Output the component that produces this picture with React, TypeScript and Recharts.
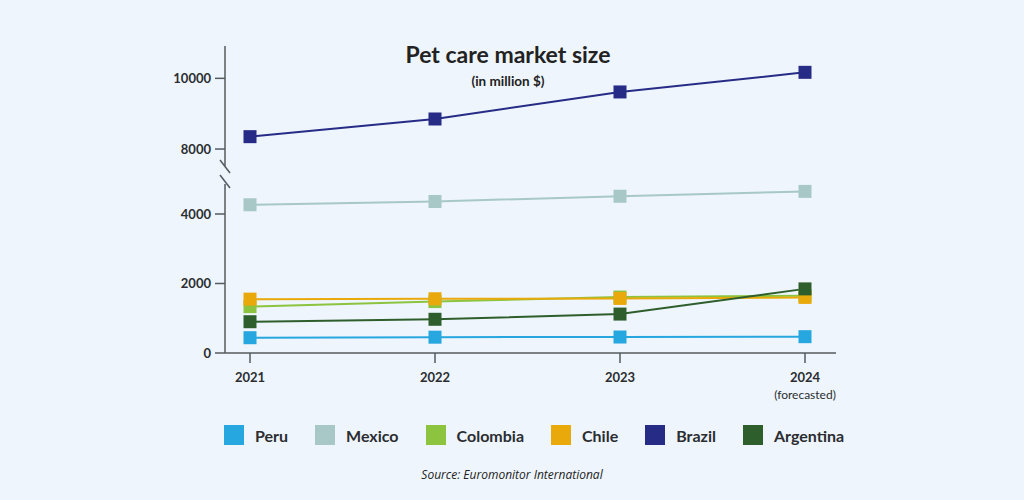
import React from 'react';
import { LineChart, Line, XAxis, YAxis } from 'recharts';

const years = ['2021', '2022', '2023', '2024'];
const peru = [440, 455, 460, 470];
const mexico = [4265, 4360, 4510, 4650];
const colombia = [1335, 1480, 1610, 1650];
const chile = [1550, 1560, 1570, 1600];
const brazil = [8350, 8850, 9615, 10170];
const argentina = [900, 970, 1120, 1845];

const series = [
  { key: 'Peru', values: peru, color: '#27a7df' },
  { key: 'Mexico', values: mexico, color: '#a7c8c6' },
  { key: 'Colombia', values: colombia, color: '#8cc43f' },
  { key: 'Chile', values: chile, color: '#e9a90b' },
  { key: 'Brazil', values: brazil, color: '#262b86' },
  { key: 'Argentina', values: argentina, color: '#2f5e2d' },
];

const data = years.map((year, i) => {
  const row: Record<string, string | number> = { year };
  series.forEach((s) => {
    row[s.key] = s.values[i];
  });
  return row;
});

const bg = '#eef5fc';
const axisColor = '#555a5e';
const textColor = '#2b2d30';
const font = 'Lato, "Noto Sans", sans-serif';

const SquareDot = (color: string) => (props: any) => {
  const { cx, cy, index } = props;
  if (cx == null || cy == null) return null;
  return <rect key={index} x={cx - 6.5} y={cy - 6.5} width={13} height={13} fill={color} />;
};

const YearTick = (props: any) => {
  const { x, y, payload } = props;
  const last = payload.value === '2024';
  return (
    <g>
      <text x={x} y={y} dy={10} textAnchor="middle" fontSize={13} fontWeight={700} fill={textColor} fontFamily={font}>
        {payload.value}
      </text>
      {last && (
        <text x={x} y={y} dy={27} textAnchor="middle" fontSize={12} fill={textColor} fontFamily={font}>
          (forecasted)
        </text>
      )}
    </g>
  );
};

const yTick = { fontSize: 13, fontWeight: 700, fill: textColor, fontFamily: font };
const margins = { left: 165, right: 188 };

export default function App() {
  const topSeries = series.filter((s) => s.key === 'Brazil');
  const bottomSeries = series.filter((s) => s.key !== 'Brazil');
  return (
    <div style={{ position: 'absolute', left: 0, top: 0, width: 1024, height: 500, background: bg, overflow: 'hidden' }}>
      <div style={{ position: 'absolute', left: 0, top: 0, width: 1024, textAlign: 'center', fontFamily: font }}>
        <div style={{ position: 'absolute', left: 0, width: 1016, top: 40, fontSize: 23, fontWeight: 700, color: '#222' }}>
          Pet care market size
        </div>
        <div style={{ position: 'absolute', left: 0, width: 1016, top: 73, fontSize: 13.5, fontWeight: 700, color: '#222' }}>
          (in million $)
        </div>
      </div>

      {/* upper part of the broken axis */}
      <div style={{ position: 'absolute', left: 0, top: 0 }}>
        <LineChart width={1024} height={200} data={data} margin={{ top: 46, bottom: 34, ...margins }}>
          <XAxis dataKey="year" hide padding={{ left: 25, right: 31 }} />
          <YAxis
            width={60}
            domain={[7520, 10915]}
            ticks={[8000, 10000]}
            tickSize={10}
            tickMargin={4}
            stroke={axisColor}
            strokeWidth={1.5}
            tick={yTick}
          />
          {topSeries.map((s) => (
            <Line
              key={s.key}
              dataKey={s.key}
              stroke={s.color}
              strokeWidth={2}
              dot={SquareDot(s.color)}
              activeDot={false}
              isAnimationActive={false}
            />
          ))}
        </LineChart>
      </div>

      {/* lower part */}
      <div style={{ position: 'absolute', left: 0, top: 0 }}>
        <LineChart width={1024} height={410} data={data} margin={{ top: 184, bottom: 0, ...margins }}>
          <XAxis
            dataKey="year"
            padding={{ left: 25, right: 31 }}
            stroke={axisColor}
            strokeWidth={1.5}
            tickSize={10}
            tickMargin={9}
            tick={<YearTick />}
            height={57}
          />
          <YAxis
            width={60}
            domain={[0, 4863]}
            ticks={[0, 2000, 4000]}
            tickSize={10}
            tickMargin={4}
            stroke={axisColor}
            strokeWidth={1.5}
            tick={yTick}
          />
          {bottomSeries.map((s) => (
            <Line
              key={s.key}
              dataKey={s.key}
              stroke={s.color}
              strokeWidth={2}
              dot={SquareDot(s.color)}
              activeDot={false}
              isAnimationActive={false}
            />
          ))}
        </LineChart>
      </div>

      <svg style={{ position: 'absolute', left: 0, top: 0 }} width={1024} height={500} pointerEvents="none">
        <rect x={222} y={166} width={8} height={18} fill={bg} />
        <line x1={220} y1={160} x2={230} y2={173} stroke={axisColor} strokeWidth={1.5} />
        <line x1={220} y1={175} x2={230} y2={188} stroke={axisColor} strokeWidth={1.5} />
      </svg>

      <div
        style={{
          position: 'absolute',
          top: 425,
          left: 224,
          display: 'flex',
          fontFamily: font,
          fontSize: 16,
          fontWeight: 700,
          color: textColor,
        }}
      >
        {series.map((s, i) => (
          <div key={s.key} style={{ display: 'flex', alignItems: 'center', marginLeft: i === 0 ? 0 : 27 }}>
            <span style={{ width: 20, height: 20, background: s.color, display: 'inline-block', marginRight: 11 }} />
            <span>{s.key}</span>
          </div>
        ))}
      </div>

      <div
        style={{
          position: 'absolute',
          top: 466,
          left: 0,
          width: 1024,
          textAlign: 'center',
          fontFamily: '"Open Sans", sans-serif',
          fontStyle: 'italic',
          fontSize: 12,
          color: '#222',
        }}
      >
        Source: Euromonitor International
      </div>
    </div>
  );
}
